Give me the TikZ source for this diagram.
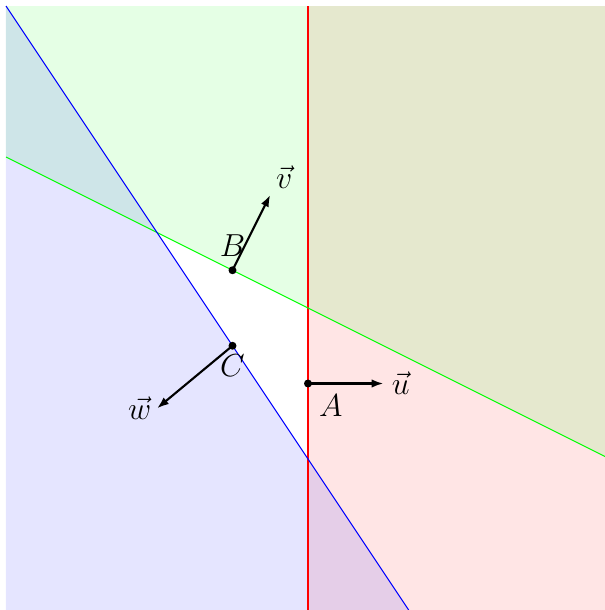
\documentclass[tikz,border=0pt]{standalone}
\usepackage{amsmath}
\usepackage{xcolor}
\usetikzlibrary{positioning, arrows.meta}

\begin{document}
\begin{tikzpicture}[
  region/.style={fill opacity=0.1},
  bound/.style={line width=0.4pt},
  vec/.style={-{Latex[length=4.5pt, width=3.2pt]}, thick, black},
  dot/.style={circle, fill=black, inner sep=0pt, minimum size=3pt},
  lbl/.style={font=\large, inner sep=2pt}
]
\useasboundingbox (-4.0795,-4) rectangle (3.934,4.0795);
\coordinate (A) at (0,-1);
\coordinate (B) at (-1,0.5);
\coordinate (C) at (-1,-0.5);
\coordinate (Utip) at (1,-1);
\coordinate (Vtip) at (-0.5,1.5);
\coordinate (Wtip) at (-2,-1.33);
\coordinate (redS) at (0,-4);
\coordinate (redN) at (0,4);
\coordinate (greenW) at (-4,2);
\coordinate (greenE) at (4,-2);
\coordinate (blueN) at (-4,4);
\coordinate (blueS) at (4/3,-4);

\fill[red, region]   (redS) rectangle (4,4);
\fill[green, region] (greenW) -- (greenE) -- (4,4) -- (-4,4) -- cycle;
\fill[blue, region]  (blueN) -- (blueS) -- (-4,-4) -- cycle;

\draw[bound, red]   (redS) -- (redN);
\draw[bound, green] (greenW) -- (greenE);
\draw[bound, blue]  (blueN) -- (blueS);

\draw[vec] (A) -- (Utip);
\draw[vec] (B) -- (Vtip);
\draw[vec] (C) -- (Wtip);
\node[dot] (Adot) at (A) {};
\node[dot] (Bdot) at (B) {};
\node[dot] (Cdot) at (C) {};

\node[lbl, below right=2pt and 2pt of A] (Alab) {$A$};
\node[lbl, above=3pt of B]               (Blab) {$B$};
\node[lbl, below=1pt of C]               (Clab) {$C$};
\node[lbl, right=1pt of Utip]            (Ulab) {$\vec{u}$};
\node[lbl, above right=0pt of Vtip]      (Vlab) {$\vec{v}$};
\node[lbl, left=0pt of Wtip]             (Wlab) {$\vec{w}$};
\end{tikzpicture}
\end{document}
